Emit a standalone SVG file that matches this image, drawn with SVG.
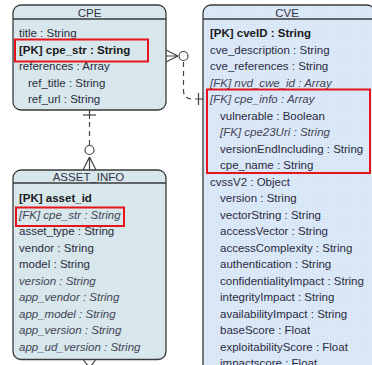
<svg xmlns="http://www.w3.org/2000/svg" width="372" height="365" viewBox="0 0 372 365">
<defs>
<pattern id="dots" width="3" height="3" patternUnits="userSpaceOnUse">
<rect width="3" height="3" fill="#dbe8f8"/>
<rect width="1" height="1" fill="#cfdff2"/>
</pattern>
</defs>
<style>
text{font-family:"Liberation Sans",Arial,sans-serif;font-size:11.5px;fill:#2b2b3f}
.t{text-anchor:middle;fill:#333344}
.b{font-weight:bold;fill:#1a1a1a}
.i{font-style:italic;fill:#444455}
.box{fill:#d7e7eb;stroke:#3a3a3a;stroke-width:1.3}
.cve{fill:url(#dots);stroke:#3a3a3a;stroke-width:1.3}
.hl{stroke:#3a3a3a;stroke-width:1.3}
.red{fill:none;stroke:#e8141c;stroke-width:2}
.c{fill:none;stroke:#444;stroke-width:1.2}
.d{fill:none;stroke:#444;stroke-width:1.2;stroke-dasharray:5 4}
</style>
<rect width="372" height="365" fill="#ffffff"/>

<g id="connectors">
<!-- CPE to ASSET_INFO -->
<line class="c" x1="89.5" y1="110" x2="89.5" y2="119"/>
<line class="c" x1="83" y1="115" x2="96" y2="115"/>
<line class="d" x1="89.5" y1="122" x2="89.5" y2="145"/>
<circle class="c" cx="89.5" cy="150" r="4.5" fill="#fff"/>
<path class="c" d="M89.5 157 L83 170 M89.5 157 L89.5 170 M89.5 157 L96 170"/>
<!-- ASSET_INFO downward (cut off) -->
<path class="c" d="M83.5 360 L89.5 368 M95.5 360 L89.5 368"/>
<!-- CPE to CVE -->
<path class="c" d="M166 50 L178 56 M166 56 L178 56 M166 62 L178 56"/>
<circle class="c" cx="183.5" cy="56" r="4.5" fill="#fff"/>
<path class="d" d="M183.5 62 L183.5 91 Q184 99 192 99 L198 99"/>
<line class="c" x1="198.5" y1="93" x2="198.5" y2="105"/>
<line class="c" x1="198.5" y1="99" x2="203" y2="99"/>
</g>

<g id="CPE">
<rect class="box" x="13" y="5" width="153" height="105" rx="8"/>
<line class="hl" x1="13" y1="19" x2="166" y2="19"/>
<text class="t" x="89.5" y="17">CPE</text>
<text x="19" y="37">title : String</text>
<text class="b" x="19" y="54">[PK] cpe_str : String</text>
<text x="19" y="70">references : Array</text>
<text x="28" y="87">ref_title : String</text>
<text x="28" y="103">ref_url : String</text>
<rect class="red" x="15" y="39.5" width="133" height="22"/>
</g>

<g id="ASSET_INFO">
<rect class="box" x="13" y="170" width="153" height="189.5" rx="8"/>
<line class="hl" x1="13" y1="183" x2="166" y2="183"/>
<text class="t" x="88.5" y="181">ASSET_INFO</text>
<text class="b" x="19" y="202">[PK] asset_id</text>
<text class="i" x="19" y="219">[FK] cpe_str : String</text>
<text x="19" y="235">asset_type : String</text>
<text x="19" y="252">vendor : String</text>
<text x="19" y="268">model : String</text>
<text class="i" x="19" y="285">version : String</text>
<text class="i" x="19" y="301">app_vendor : String</text>
<text class="i" x="19" y="318">app_model : String</text>
<text class="i" x="19" y="334">app_version : String</text>
<text class="i" x="19" y="351">app_ud_version : String</text>
<rect class="red" x="16" y="207.5" width="108" height="18.5"/>
</g>

<g id="CVE">
<rect class="cve" x="203" y="5" width="172" height="380" rx="8"/>
<line class="hl" x1="203" y1="19" x2="375" y2="19"/>
<text class="t" x="287" y="17">CVE</text>
<text class="b" x="210" y="37">[PK] cveID : String</text>
<text x="210" y="54">cve_description : String</text>
<text x="210" y="70">cve_references : String</text>
<text class="i" x="210" y="87">[FK] nvd_cwe_id : Array</text>
<text class="i" x="210" y="103">[FK] cpe_info : Array</text>
<text x="220" y="120">vulnerable : Boolean</text>
<text class="i" x="220" y="136">[FK] cpe23Uri : String</text>
<text x="220" y="153">versionEndIncluding : String</text>
<text x="220" y="169">cpe_name : String</text>
<text x="210" y="186">cvssV2 : Object</text>
<text x="220" y="202">version : String</text>
<text x="220" y="219">vectorString : String</text>
<text x="220" y="235">accessVector : String</text>
<text x="220" y="252">accessComplexity : String</text>
<text x="220" y="268">authentication : String</text>
<text x="220" y="285">confidentialityImpact : String</text>
<text x="220" y="301">integrityImpact : String</text>
<text x="220" y="318">availabilityImpact : String</text>
<text x="220" y="334">baseScore : Float</text>
<text x="220" y="351">exploitabilityScore : Float</text>
<text x="220" y="367">impactscore : Float</text>
<rect class="red" x="207" y="89.5" width="163" height="83.5"/>
</g>
</svg>
